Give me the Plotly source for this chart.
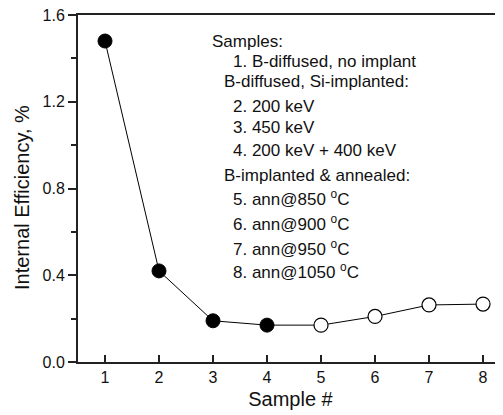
import plotly.graph_objects as go

samples = [1, 2, 3, 4, 5, 6, 7, 8]
efficiency = [1.48, 0.42, 0.19, 0.17, 0.17, 0.21, 0.263, 0.267]
filled_samples = [1, 2, 3, 4]
filled_eff = [1.48, 0.42, 0.19, 0.17]
open_samples = [5, 6, 7, 8]
open_eff = [0.17, 0.21, 0.263, 0.267]
y_ticks = [0.0, 0.4, 0.8, 1.2, 1.6]

legend_lines = [
    "Samples:",
    "1. B-diffused, no implant",
    "B-diffused, Si-implanted:",
    "2. 200 keV",
    "3. 450 keV",
    "4. 200 keV + 400 keV",
    "B-implanted & annealed:",
    "5. ann@850 <sup>o</sup>C",
    "6. ann@900 <sup>o</sup>C",
    "7. ann@950 <sup>o</sup>C",
    "8. ann@1050 <sup>o</sup>C",
]
legend_x = [2.944, 3.33, 3.161, 3.33, 3.33, 3.33, 3.161, 3.33, 3.33, 3.33, 3.33]
legend_y = [1.477, 1.385, 1.292, 1.180, 1.079, 0.977, 0.862, 0.755, 0.640, 0.524, 0.418]

FONT = "Liberation Sans, Arial, Helvetica, sans-serif"

fig = go.Figure()
fig.add_trace(go.Scatter(x=samples, y=efficiency, mode="lines",
                         line=dict(color="black", width=1), hoverinfo="skip"))
fig.add_trace(go.Scatter(x=filled_samples, y=filled_eff, mode="markers",
                         marker=dict(size=14, color="black",
                                     line=dict(color="black", width=1))))
fig.add_trace(go.Scatter(x=open_samples, y=open_eff, mode="markers",
                         marker=dict(size=14, color="white",
                                     line=dict(color="black", width=1.2))))

for txt, xx, yy in zip(legend_lines, legend_x, legend_y):
    fig.add_annotation(x=xx, y=yy, xref="x", yref="y", text=txt,
                       showarrow=False, xanchor="left", yanchor="middle",
                       font=dict(family=FONT, size=17, color="#111"))

# y-axis title as a rotated annotation (slightly below plot centre, as in the reference)
fig.add_annotation(x=0, y=0.4726, xref="paper", yref="paper",
                   text="Internal Efficiency, %", textangle=-90,
                   showarrow=False, xanchor="center", yanchor="middle",
                   xshift=-56,
                   font=dict(family=FONT, size=20, color="#111"))

fig.update_layout(
    width=495, height=407,
    margin=dict(l=70, r=0, t=7, b=53),
    paper_bgcolor="white", plot_bgcolor="white",
    showlegend=False,
    font=dict(family=FONT, color="#111"),
)
fig.update_xaxes(
    range=[0.5, 8.37], tickvals=samples, ticks="inside", ticklen=7,
    tickwidth=1.5, tickcolor="#222", showline=True, linecolor="#222",
    linewidth=2, mirror=True, showgrid=False, zeroline=False,
    tickfont=dict(size=16, family=FONT, color="#111"),
    title=dict(text="Sample #", font=dict(size=20, family=FONT, color="#111"),
               standoff=7),
)
fig.update_yaxes(
    range=[0, 1.6], tickvals=y_ticks, ticktext=[f"{v:.1f}" for v in y_ticks],
    ticks="outside", ticklabeloverflow="allow",
    ticklen=8, tickwidth=1.5, tickcolor="#222", showline=True,
    linecolor="#222", linewidth=2, mirror=False, showgrid=False,
    zeroline=False,
    minor=dict(dtick=0.2, tick0=0, ticks="outside", ticklen=5, tickwidth=1.5,
               tickcolor="#222", showgrid=False),
    tickfont=dict(size=16, family=FONT, color="#111"),
)

fig.write_html("out.html")
